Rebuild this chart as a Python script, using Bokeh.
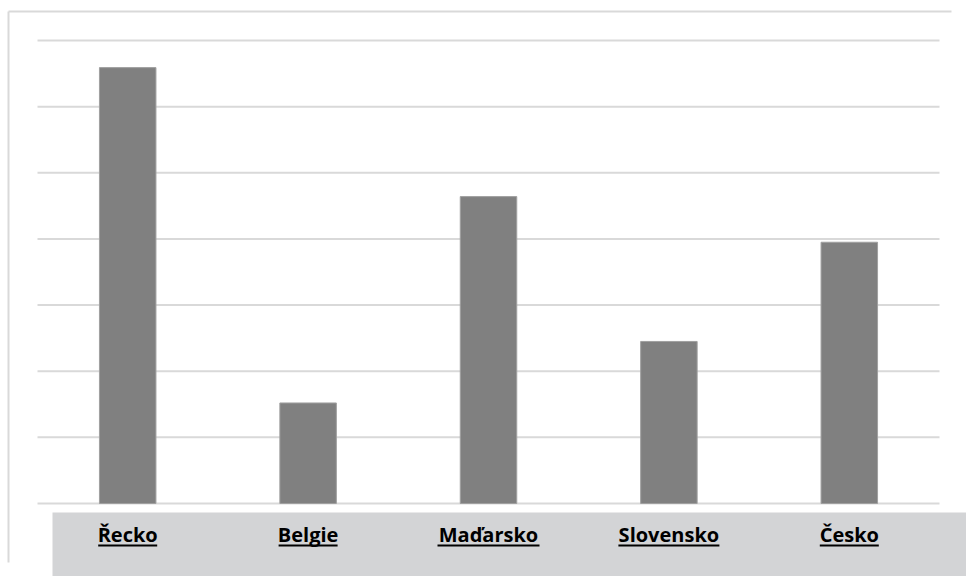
from bokeh.plotting import figure
from bokeh.models import Range1d
from bokeh.core.properties import value
from bokeh.embed import file_html
from bokeh.resources import INLINE

# ---- data ----
categories = ["Řecko", "Belgie", "Maďarsko", "Slovensko", "Česko"]
values = [6.59, 1.52, 4.64, 2.45, 3.95]
grid_values = [0, 1, 2, 3, 4, 5, 6, 7]
# approx label widths in pixels (for underline)
label_widths = [59, 59, 102, 101, 59]

W, H = 966, 576
# plot area in pixels
PX_LEFT, PX_RIGHT = 37, 939
PY_ZERO, PY_TOP = 503, 40
n = len(categories)
cat_w = (PX_RIGHT - PX_LEFT) / n
unit_h = (PY_ZERO - PY_TOP) / max(grid_values)

def dx(px):
    return (px - PX_LEFT) / cat_w - 0.5

def dy(py):
    return (PY_ZERO - py) / unit_h

p = figure(width=W, height=H, output_backend="svg", toolbar_location=None,
           x_range=Range1d(dx(0), dx(W)), y_range=Range1d(dy(H), dy(0)),
           min_border=0, min_border_left=0, min_border_right=0,
           min_border_top=0, min_border_bottom=0)
p.axis.visible = False
p.grid.visible = False
p.outline_line_color = None
p.background_fill_color = "white"
p.border_fill_color = "white"

# outer border (top & left)
p.segment(x0=[dx(8), dx(8)], y0=[dy(11), dy(11)], x1=[dx(951), dx(8)], y1=[dy(11), dy(562)],
          line_color="#d9d9d9", line_width=2)

# gridlines
p.segment(x0=[dx(PX_LEFT)] * len(grid_values), y0=grid_values,
          x1=[dx(PX_RIGHT)] * len(grid_values), y1=grid_values,
          line_color="#d9d9d9", line_width=2)

# bars
xs = list(range(n))
p.vbar(x=xs, top=values, bottom=0, width=56.5 / cat_w, fill_color="#808080",
       line_color="#a0a0a0", line_width=1)

# category band
p.quad(left=[dx(52)], right=[dx(W + 5)], top=[dy(512)], bottom=[dy(H + 5)],
       fill_color="#d3d4d6", line_color=None)

# labels
p.text(x=xs, y=[dy(534)] * n, text=categories, text_font=value("Open Sans"),
       text_font_style="bold", text_font_size="20px", text_align="center",
       text_baseline="middle", text_color="#000000")
# underline
p.segment(x0=[i - lw / 2 / cat_w for i, lw in zip(xs, label_widths)], y0=[dy(545)] * n,
          x1=[i + lw / 2 / cat_w for i, lw in zip(xs, label_widths)], y1=[dy(545)] * n,
          line_color="#000000", line_width=2)

open("out.html", "w").write(file_html(p, INLINE))
